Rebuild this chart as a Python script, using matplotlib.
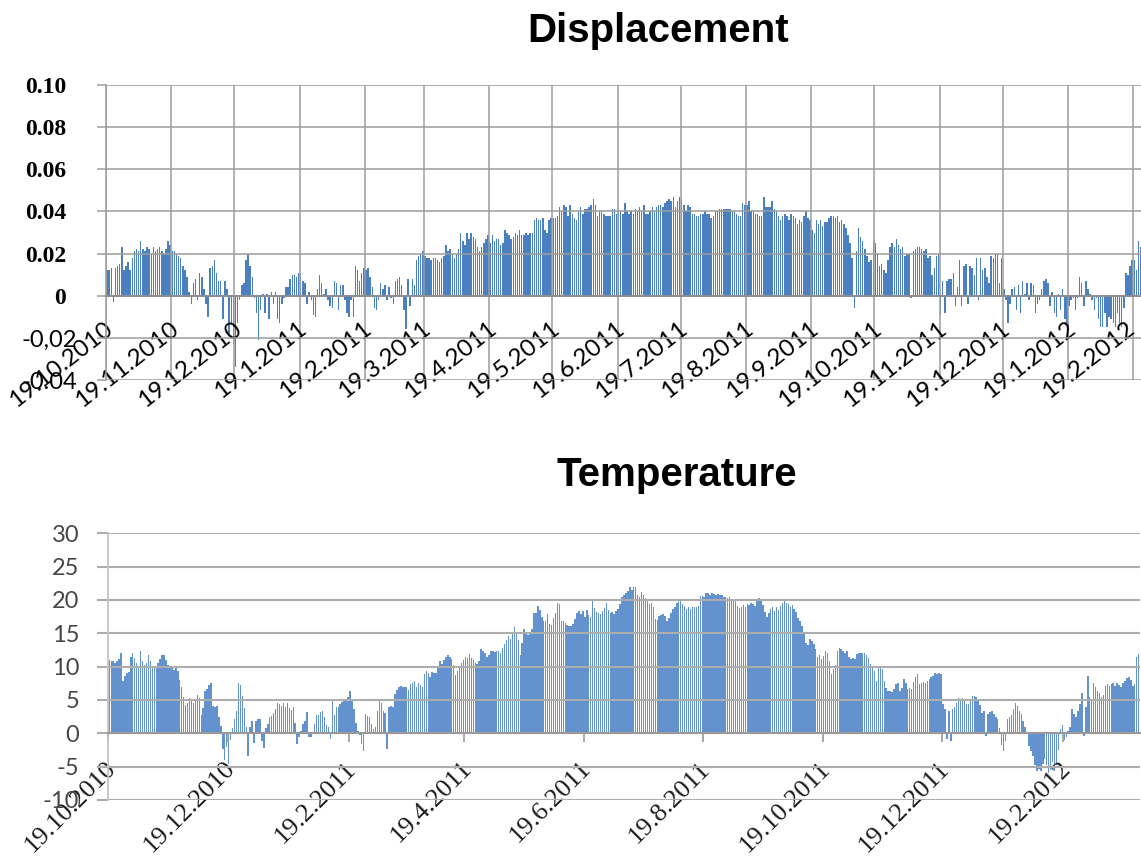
import datetime as dt
import matplotlib
matplotlib.use('Agg')
import matplotlib.pyplot as plt
import matplotlib.dates as mdates
from matplotlib.transforms import ScaledTranslation
import numpy as np

start = dt.date(2010, 10, 19)

# daily displacement, one row per month starting on the 19th
disp = [
    0.012, 0.012, 0.013, -0.003, 0.013, 0.014, 0.015, 0.023, 0.012, 0.014, 0.016, 0.012, 0.018, 0.021, 0.022, 0.021,
    0.026, 0.022, 0.021, 0.023, 0.022, 0.020, 0.023, 0.021, 0.022, 0.023, 0.021, 0.020, 0.022, 0.026, 0.024,
    0.021, 0.021, 0.020, 0.019, 0.018, 0.014, 0.012, 0.009, 0.002, -0.004, 0.006, 0.008, -0.002, 0.011, 0.009,
    0.003, -0.004, -0.010, 0.013, 0.014, 0.017, 0.011, 0.007, 0.007, -0.011, 0.007, 0.003, -0.018, -0.013, -0.023,
    -0.034, -0.013, -0.002, 0.005, 0.006, 0.017, 0.020, 0.014, 0.009, -0.001, -0.008, -0.021, -0.007, 0.001, -0.008,
    0.001, -0.011, 0.002, -0.004, 0.002, -0.011, -0.013, -0.004, -0.001, 0.004, 0.004, 0.008, 0.010, 0.010, 0.009, 0.011,
    0.011, 0.007, 0.006, -0.004, 0.002, -0.002, -0.009, -0.010, 0.003, 0.010, 0.006, 0.001, 0.003, -0.002, -0.005,
    -0.006, 0.007, 0.006, -0.007, 0.005, 0.005, -0.002, -0.008, -0.010, -0.002, -0.010, 0.014, 0.012, 0.007, 0.011, 0.013,
    0.012, 0.013, 0.009, 0.004, -0.006, -0.007, -0.002, 0.006, 0.003, 0.005, -0.002, 0.004, -0.001, -0.004,
    0.007, 0.008, 0.009, 0.005, -0.007, -0.016, 0.008, -0.005, 0.008, 0.005, 0.017, 0.019, 0.020, 0.021,
    0.019, 0.018, 0.018, 0.017, 0.018, 0.018, 0.017, 0.016, 0.018, 0.019, 0.024, 0.021, 0.022, 0.020, 0.018,
    0.020, 0.022, 0.030, 0.026, 0.024, 0.030, 0.027, 0.030, 0.028, 0.027, 0.023, 0.021, 0.023, 0.025, 0.027, 0.029,
    0.025, 0.029, 0.026, 0.027, 0.027, 0.024, 0.025, 0.031, 0.030, 0.029, 0.027, 0.028, 0.030, 0.029, 0.031,
    0.029, 0.029, 0.030, 0.029, 0.030, 0.030, 0.036, 0.037, 0.036, 0.036, 0.037, 0.031, 0.030, 0.036, 0.037,
    0.037, 0.037, 0.038, 0.042, 0.040, 0.043, 0.042, 0.038, 0.043, 0.039, 0.037, 0.036, 0.040, 0.042, 0.039,
    0.041, 0.041, 0.042, 0.043, 0.046, 0.043, 0.038, 0.040, 0.040, 0.039, 0.038, 0.038, 0.038, 0.041, 0.041, 0.039,
    0.040, 0.040, 0.039, 0.044, 0.040, 0.039, 0.040, 0.039, 0.041, 0.040, 0.042, 0.040, 0.043, 0.039, 0.039,
    0.040, 0.042, 0.040, 0.042, 0.043, 0.043, 0.042, 0.044, 0.045, 0.046, 0.045, 0.047, 0.042, 0.045, 0.047,
    0.046, 0.043, 0.040, 0.043, 0.042, 0.039, 0.039, 0.038, 0.038, 0.039, 0.039, 0.040, 0.039, 0.039, 0.037,
    0.038, 0.040, 0.040, 0.041, 0.041, 0.041, 0.041, 0.041, 0.041, 0.040, 0.040, 0.039, 0.038, 0.038, 0.044, 0.043,
    0.043, 0.045, 0.040, 0.040, 0.039, 0.039, 0.038, 0.038, 0.047, 0.042, 0.042, 0.042, 0.045, 0.041, 0.040,
    0.038, 0.036, 0.038, 0.039, 0.038, 0.036, 0.039, 0.038, 0.037, 0.034, 0.036, 0.035, 0.038, 0.040, 0.037, 0.036,
    0.031, 0.030, 0.036, 0.034, 0.036, 0.033, 0.035, 0.035, 0.037, 0.038, 0.038, 0.037, 0.038, 0.035, 0.036,
    0.034, 0.032, 0.029, 0.025, 0.018, -0.006, 0.021, 0.032, 0.028, 0.026, 0.022, 0.019, 0.016, 0.017, 0.026,
    0.025, 0.020, 0.014, 0.015, 0.012, 0.011, 0.017, 0.023, 0.025, 0.023, 0.027, 0.024, 0.022, 0.023, 0.019,
    0.020, 0.020, -0.001, 0.021, 0.022, 0.023, 0.023, 0.022, 0.021, 0.022, 0.018, 0.019, 0.010, 0.013, 0.019, 0.020,
    -0.009, 0.007, -0.008, 0.007, 0.008, 0.008, 0.011, -0.005, 0.004, 0.017, -0.005, 0.014, 0.015, -0.004, 0.014,
    0.013, 0.010, 0.018, -0.002, 0.018, 0.012, 0.013, 0.009, 0.006, 0.019, 0.018, 0.020, 0.020, 0.006, 0.018,
    0.003, -0.002, -0.013, -0.004, 0.003, 0.004, -0.007, 0.005, -0.008, 0.007, 0.001, 0.006, -0.002, 0.006, 0.005,
    -0.008, -0.004, -0.002, 0.003, 0.007, 0.008, 0.006, -0.005, 0.002, -0.008, -0.010, 0.001, -0.007, 0.003, -0.011, -0.013,
    -0.005, -0.002, -0.001, -0.007, -0.001, 0.009, 0.006, -0.005, 0.007, 0.003, 0.001, -0.002, -0.007, -0.001, -0.011,
    -0.015, -0.015, -0.008, -0.015, -0.010, -0.011, -0.013, -0.015, -0.008, -0.013, -0.015, -0.006, 0.011, 0.010, 0.014, 0.017,
    0.017, 0.012, 0.026, 0.023,
]

# daily air temperature (deg C)
temp = [
    11.0, 10.8, 10.8, 10.6, 10.8, 11.2, 12.0, 7.8, 8.6, 9.0,
    9.2, 11.5, 12.0, 11.3, 10.5, 10.0, 12.4, 10.8, 10.3, 10.5,
    11.7, 10.8, 10.0, 9.8, 9.9, 10.5, 11.2, 11.8, 11.7, 11.0,
    10.2, 10.0, 9.8, 9.5, 9.8, 9.3, 8.0, 7.0, 5.5, 4.3,
    4.5, 5.3, 5.1, 4.6, 4.8, 5.8, 5.3, 2.8, 3.8, 6.3,
    6.6, 7.2, 7.5, 4.1, 4.0, 4.1, 2.5, 1.1, -2.4, -4.0,
    -2.0, -4.6, -1.0, 0.8, 2.1, 3.4, 7.6, 7.2, 5.6, 3.8,
    0.9, -3.4, 0.9, 1.8, -1.5, 1.9, 2.1, 2.1, -1.2, -2.2,
    0.8, 1.4, 2.4, 2.6, 3.0, 3.6, 4.6, 4.4, 4.1, 4.6,
    3.9, 4.5, 3.8, 3.5, 3.9, 1.5, -1.6, -0.6, 0.4, 1.4,
    1.9, 3.2, -0.6, -0.5, 0.1, 1.4, 2.8, 2.8, 3.2, 3.3,
    2.4, 1.3, 0.9, -0.9, 5.2, 2.8, 3.9, 3.9, 4.4, 4.7,
    4.9, 4.9, 5.4, 6.3, 5.0, 3.6, 1.5, 0.4, -0.2, -1.6,
    -2.6, 2.9, 2.6, 2.4, 1.4, 0.6, 0.9, 3.4, 4.8, 4.6,
    3.4, 3.1, -2.4, 3.9, 4.1, 3.9, 5.9, 6.5, 6.9, 7.1,
    6.9, 6.9, 6.9, 6.5, 7.4, 7.6, 7.8, 7.0, 7.6, 7.3,
    6.9, 8.9, 9.3, 9.0, 8.5, 9.2, 9.1, 9.1, 10.0, 10.8,
    10.4, 11.0, 11.4, 11.8, 11.4, 11.1, 10.2, 8.8, 9.4, 9.9,
    10.6, 11.0, 11.4, 11.3, 11.9, 11.3, 11.0, 10.5, 10.4, 10.9,
    12.6, 12.3, 12.0, 11.5, 11.8, 12.3, 12.4, 12.2, 12.4, 12.4,
    12.0, 12.8, 13.4, 14.0, 14.6, 14.2, 15.1, 15.9, 15.2, 14.0,
    11.8, 13.5, 15.6, 15.1, 14.8, 14.9, 15.6, 18.0, 18.1, 19.1,
    18.5, 17.5, 16.9, 16.8, 17.9, 16.4, 16.2, 17.3, 18.0, 19.6,
    19.4, 16.8, 16.8, 16.5, 16.2, 16.1, 16.1, 16.4, 17.2, 18.1,
    18.3, 17.9, 18.3, 17.4, 18.5, 17.8, 17.4, 19.9, 18.8, 18.2,
    18.0, 17.9, 18.3, 18.8, 19.6, 18.5, 18.0, 18.2, 17.9, 18.3,
    18.7, 19.4, 20.5, 20.8, 21.1, 21.3, 21.9, 21.5, 21.9, 22.0,
    20.8, 20.5, 21.2, 20.7, 20.3, 19.9, 19.4, 19.5, 18.9, 17.2,
    17.0, 17.6, 17.8, 17.9, 17.6, 16.8, 17.3, 18.1, 18.6, 18.9,
    19.6, 20.0, 19.9, 19.4, 19.1, 18.6, 18.9, 18.6, 18.9, 18.9,
    19.0, 19.1, 20.6, 20.6, 20.4, 21.1, 21.0, 20.8, 21.0, 20.9,
    20.8, 20.9, 20.8, 20.8, 20.5, 20.4, 20.3, 20.4, 20.1, 20.1,
    19.9, 19.1, 18.8, 19.0, 19.3, 19.0, 19.4, 19.3, 19.6, 19.4,
    19.1, 19.9, 20.3, 19.9, 19.3, 18.2, 17.4, 18.0, 18.7, 18.9,
    18.4, 18.9, 18.5, 19.1, 19.6, 19.9, 19.6, 19.4, 19.0, 19.3,
    18.6, 18.2, 17.3, 16.8, 16.1, 15.0, 13.6, 13.3, 14.2, 13.9,
    13.4, 12.7, 11.4, 11.8, 11.2, 11.6, 12.3, 12.1, 10.9, 8.9,
    9.6, 10.3, 12.4, 12.8, 12.6, 12.4, 12.1, 12.3, 11.5, 11.1,
    11.3, 11.1, 11.9, 12.1, 12.1, 12.1, 12.1, 11.7, 11.3, 10.4,
    10.1, 9.4, 7.9, 9.9, 9.9, 9.6, 7.9, 6.8, 6.4, 6.4,
    6.2, 6.6, 7.4, 7.5, 6.4, 6.8, 8.1, 7.5, 6.6, 6.8,
    6.7, 7.7, 8.5, 8.9, 7.4, 7.6, 7.7, 7.5, 7.9, 8.1,
    8.4, 8.6, 9.1, 8.9, 9.1, 8.9, 4.4, 3.6, -0.9, 3.4,
    -1.2, 3.6, 3.9, 4.6, 5.3, 5.2, 5.3, 4.9, 4.4, 4.4,
    5.0, 5.6, 5.6, 5.4, 4.8, 4.2, 3.0, 3.4, -0.4, 2.9,
    3.2, 3.4, 2.9, 2.4, 2.1, 0.8, -1.8, -2.6, -1.1, 2.2,
    2.4, 2.8, 3.6, 4.6, 4.1, 3.4, 2.9, 1.9, 1.0, 0.1,
    -1.9, -2.6, -3.4, -4.8, -5.7, -5.4, -5.6, -4.6, -3.8, -4.8,
    -5.9, -5.5, -4.3, -5.6, -4.8, -2.5, 0.6, 1.3, -1.0, -0.6,
    0.4, 0.9, 3.6, 2.9, 2.4, 3.4, 4.4, 6.0, -0.4, 3.9,
    8.6, 5.4, 5.2, 7.6, 7.0, 6.4, 6.1, 5.4, 5.8, 7.1,
    7.4, 7.1, 7.4, 7.6, 7.1, 7.6, 7.2, 6.9, 7.6, 7.8,
    8.3, 8.4, 8.0, 7.1, 7.4, 11.4, 11.9,
]

disp_yticks = [-0.04, -0.02, 0, 0.02, 0.04, 0.06, 0.08, 0.10]
disp_ylabels = ['-0.04', '-0,02', '0', '0.02', '0.04', '0.06', '0.08', '0.10']
temp_yticks = [-10, -5, 0, 5, 10, 15, 20, 25, 30]

def months_from(first, count, step):
    out = []
    for k in range(count):
        m = first.month - 1 + k * step
        out.append(dt.date(first.year + m // 12, m % 12 + 1, first.day))
    return out

disp_xticks = months_from(start, 17, 1)
temp_xticks = months_from(start, 9, 2)

def label(d):
    return f"{d.day}.{d.month}.{d.year}"

W, H = 1141, 858
fig = plt.figure(figsize=(W / 100, H / 100), dpi=100)
s0 = mdates.date2num(start)

def px(p):
    return p * 0.72  # pixels -> points at 100 dpi

def shift(t, dx, dy=0):
    t.set_transform(t.get_transform() + ScaledTranslation(dx / 100, dy / 100, fig.dpi_scale_trans))

# ---------------- Displacement ----------------
grid1 = '#9c9c9c'
ax1 = fig.add_axes([106 / W, 1 - 380 / H, (W - 106) / W, (380 - 85) / H])
x1 = s0 + np.arange(len(disp)) + 0.5
ax1.bar(x1, disp, width=0.7, color='#4a7fc0', linewidth=0)
ax1.set_xlim(s0, s0 + (W - 106) / 2.105)
ax1.set_ylim(-0.04, 0.10)
ax1.grid(True, color=grid1, linewidth=1.1)
for side in ['top', 'right']:
    ax1.spines[side].set_visible(False)
ax1.spines['left'].set_color(grid1)
ax1.spines['left'].set_linewidth(1.1)
ax1.spines['bottom'].set_position(('data', 0))
ax1.spines['bottom'].set_color('#8c8c8c')
ax1.spines['bottom'].set_linewidth(1.3)

ax1.set_yticks(disp_yticks)
ax1.set_yticklabels(disp_ylabels)
ax1.tick_params(axis='y', direction='out', length=px(9), width=1.1, color=grid1, pad=px(31))
for t, txt in zip(ax1.get_yticklabels(), disp_ylabels):
    if txt.startswith('-'):
        t.set_fontfamily('Lato')
        t.set_fontsize(17)
        shift(t, 11)
    else:
        t.set_fontfamily('Liberation Serif')
        t.set_fontweight('bold')
        t.set_fontsize(17)

ax1.set_xticks([mdates.date2num(d) for d in disp_xticks])
ax1.set_xticklabels([label(d) for d in disp_xticks])
ax1.tick_params(axis='x', length=0, pad=px(22))
xlabels1 = ax1.get_xticklabels()
for i, t in enumerate(xlabels1):
    t.set_fontfamily('Lato')
    t.set_fontsize(17.5)
    t.set_rotation(38)
    t.set_ha('right')
    t.set_va('top')
    t.set_rotation_mode('anchor')
    shift(t, -8 if i == len(xlabels1) - 1 else -2)

fig.text(658 / W, 1 - 42 / H, 'Displacement', ha='center', va='baseline',
         fontsize=29, fontweight='bold', family='Liberation Sans')

# ---------------- Temperature ----------------
grid2 = '#adadad'
ax2 = fig.add_axes([108.3 / W, 1 - 800 / H, (527 * 1.957) / W, (800 - 533.3) / H])
x2 = s0 + np.arange(len(temp)) + 0.5
ax2.bar(x2, temp, width=0.75, color='#6392cf', linewidth=0)
ax2.set_xlim(s0, s0 + 527)
ax2.set_ylim(-10, 30)
ax2.grid(True, axis='y', color=grid2, linewidth=1.5)
for side in ['top', 'right']:
    ax2.spines[side].set_visible(False)
ax2.spines['left'].set_color('#c4c4c4')
ax2.spines['left'].set_linewidth(1.3)
ax2.spines['bottom'].set_position(('data', 0))
ax2.spines['bottom'].set_color('#9a9a9a')
ax2.spines['bottom'].set_linewidth(1.5)

ax2.set_yticks(temp_yticks)
ax2.set_yticklabels([str(v) for v in temp_yticks])
ax2.tick_params(axis='y', direction='out', length=px(11), width=1.5, color=grid2,
                pad=px(18), labelsize=17, labelcolor='#474747')
for t in ax2.get_yticklabels():
    t.set_fontfamily('Lato')

ax2.set_xticks([mdates.date2num(d) for d in temp_xticks])
ax2.set_xticklabels([label(d) for d in temp_xticks])
ax2.tick_params(axis='x', direction='out', length=px(9), width=1.2, color='#9a9a9a', pad=px(15))
for t in ax2.get_xticklabels():
    t.set_fontfamily('Liberation Serif')
    t.set_fontsize(19)
    t.set_color('#1a1a1a')
    t.set_rotation(45)
    t.set_ha('right')
    t.set_va('top')
    t.set_rotation_mode('anchor')
    shift(t, -4)

fig.text(677 / W, 1 - 486 / H, 'Temperature', ha='center', va='baseline',
         fontsize=29, fontweight='bold', family='Liberation Sans')

fig.savefig('out.png', dpi=100)
